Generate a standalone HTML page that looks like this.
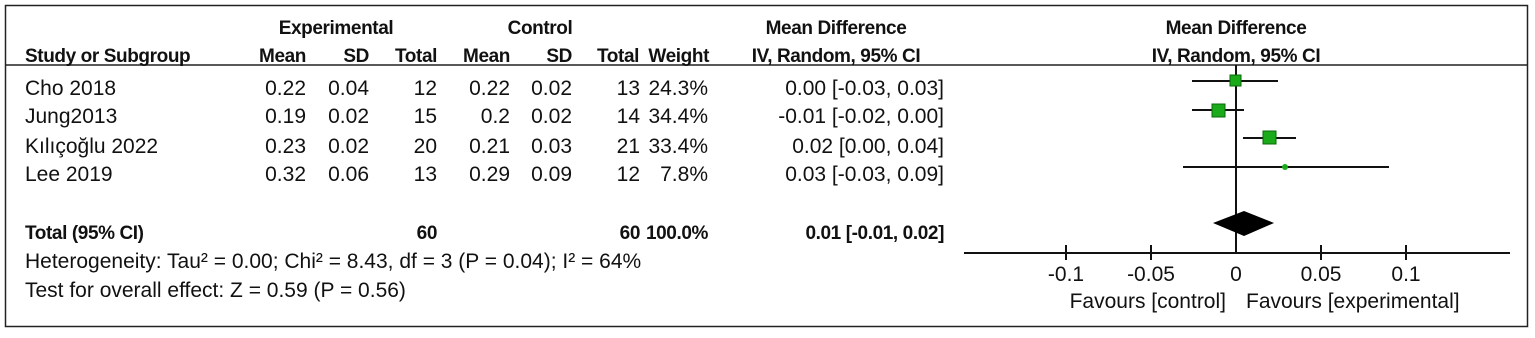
<!DOCTYPE html>
<html><head><style>
body{margin:0;background:#fff;}
svg text{font-family:"Liberation Sans",Arial,sans-serif;font-size:21px;fill:#111;}
svg text.b{font-weight:bold;font-size:19px;letter-spacing:-0.4px;}
</style></head><body>
<svg width="1535" height="333" xmlns="http://www.w3.org/2000/svg">
<rect x="5.5" y="5.5" width="1522" height="321" fill="none" stroke="#222" stroke-width="1.5"/>
<line x1="5" y1="65" x2="1528" y2="65" stroke="#222" stroke-width="1.5"/>
<text x="336" y="34" class="b" text-anchor="middle">Experimental</text>
<text x="540" y="34" class="b" text-anchor="middle">Control</text>
<text x="836" y="34" class="b" text-anchor="middle">Mean Difference</text>
<text x="1236" y="34" class="b" text-anchor="middle">Mean Difference</text>
<text x="25" y="62" class="b">Study or Subgroup</text>
<text x="306" y="62" class="b" text-anchor="end">Mean</text>
<text x="369" y="62" class="b" text-anchor="end">SD</text>
<text x="437" y="62" class="b" text-anchor="end">Total</text>
<text x="510" y="62" class="b" text-anchor="end">Mean</text>
<text x="572" y="62" class="b" text-anchor="end">SD</text>
<text x="639" y="62" class="b" text-anchor="end">Total</text>
<text x="709" y="62" class="b" text-anchor="end">Weight</text>
<text x="836" y="62" class="b" text-anchor="middle">IV, Random, 95% CI</text>
<text x="1236" y="62" class="b" text-anchor="middle">IV, Random, 95% CI</text>
<g>
<text x="25" y="95">Cho 2018</text><text x="306" y="95" text-anchor="end">0.22</text><text x="369" y="95" text-anchor="end">0.04</text><text x="437" y="95" text-anchor="end">12</text><text x="510" y="95" text-anchor="end">0.22</text><text x="572" y="95" text-anchor="end">0.02</text><text x="640" y="95" text-anchor="end">13</text><text x="708" y="95" text-anchor="end">24.3%</text><text x="944" y="95" text-anchor="end">0.00 [-0.03, 0.03]</text>
<text x="25" y="123">Jung2013</text><text x="306" y="123" text-anchor="end">0.19</text><text x="369" y="123" text-anchor="end">0.02</text><text x="437" y="123" text-anchor="end">15</text><text x="510" y="123" text-anchor="end">0.2</text><text x="572" y="123" text-anchor="end">0.02</text><text x="640" y="123" text-anchor="end">14</text><text x="708" y="123" text-anchor="end">34.4%</text><text x="944" y="123" text-anchor="end">-0.01 [-0.02, 0.00]</text>
<text x="25" y="153">Kılıçoğlu 2022</text><text x="306" y="153" text-anchor="end">0.23</text><text x="369" y="153" text-anchor="end">0.02</text><text x="437" y="153" text-anchor="end">20</text><text x="510" y="153" text-anchor="end">0.21</text><text x="572" y="153" text-anchor="end">0.03</text><text x="640" y="153" text-anchor="end">21</text><text x="708" y="153" text-anchor="end">33.4%</text><text x="944" y="153" text-anchor="end">0.02 [0.00, 0.04]</text>
<text x="25" y="181">Lee 2019</text><text x="306" y="181" text-anchor="end">0.32</text><text x="369" y="181" text-anchor="end">0.06</text><text x="437" y="181" text-anchor="end">13</text><text x="510" y="181" text-anchor="end">0.29</text><text x="572" y="181" text-anchor="end">0.09</text><text x="640" y="181" text-anchor="end">12</text><text x="708" y="181" text-anchor="end">7.8%</text><text x="944" y="181" text-anchor="end">0.03 [-0.03, 0.09]</text>
<text x="25" y="239" class="b">Total (95% CI)</text><text x="437" y="239" class="b" text-anchor="end">60</text><text x="640" y="239" class="b" text-anchor="end">60</text><text x="708" y="239" class="b" text-anchor="end">100.0%</text><text x="944" y="239" class="b" text-anchor="end">0.01 [-0.01, 0.02]</text>
<text x="25" y="268">Heterogeneity: Tau² = 0.00; Chi² = 8.43, df = 3 (P = 0.04); I² = 64%</text>
<text x="25" y="297">Test for overall effect: Z = 0.59 (P = 0.56)</text>
</g>
<g stroke="#111" stroke-width="2">
<line x1="1236" y1="65" x2="1236" y2="253"/>
<line x1="964" y1="253" x2="1510" y2="253"/>
<line x1="1066" y1="245" x2="1066" y2="260"/><line x1="1151" y1="245" x2="1151" y2="260"/><line x1="1321" y1="245" x2="1321" y2="260"/><line x1="1406" y1="245" x2="1406" y2="260"/>
<line x1="1192" y1="81" x2="1278" y2="81"/>
<line x1="1192" y1="110" x2="1244" y2="110"/>
<line x1="1243" y1="138" x2="1296" y2="138"/>
<line x1="1183" y1="167" x2="1389" y2="167"/>
</g>
<rect x="1230" y="75" width="11" height="11" fill="#1aaa1a" stroke="#0a6a0a"/>
<rect x="1212" y="104" width="13" height="13" fill="#1aaa1a" stroke="#0a6a0a"/>
<rect x="1263" y="131" width="13" height="13" fill="#1aaa1a" stroke="#0a6a0a"/>
<circle cx="1285" cy="167" r="3" fill="#1aaa1a"/>
<polygon points="1213,223 1244,211 1274,223 1244,236" fill="#000"/>
<g text-anchor="middle">
<text x="1066" y="281">-0.1</text><text x="1151" y="281">-0.05</text><text x="1236" y="281">0</text><text x="1321" y="281">0.05</text><text x="1406" y="281">0.1</text>
<text x="1226" y="308" text-anchor="end">Favours [control]</text><text x="1246" y="308" text-anchor="start">Favours [experimental]</text>
</g>
</svg>
</body></html>
